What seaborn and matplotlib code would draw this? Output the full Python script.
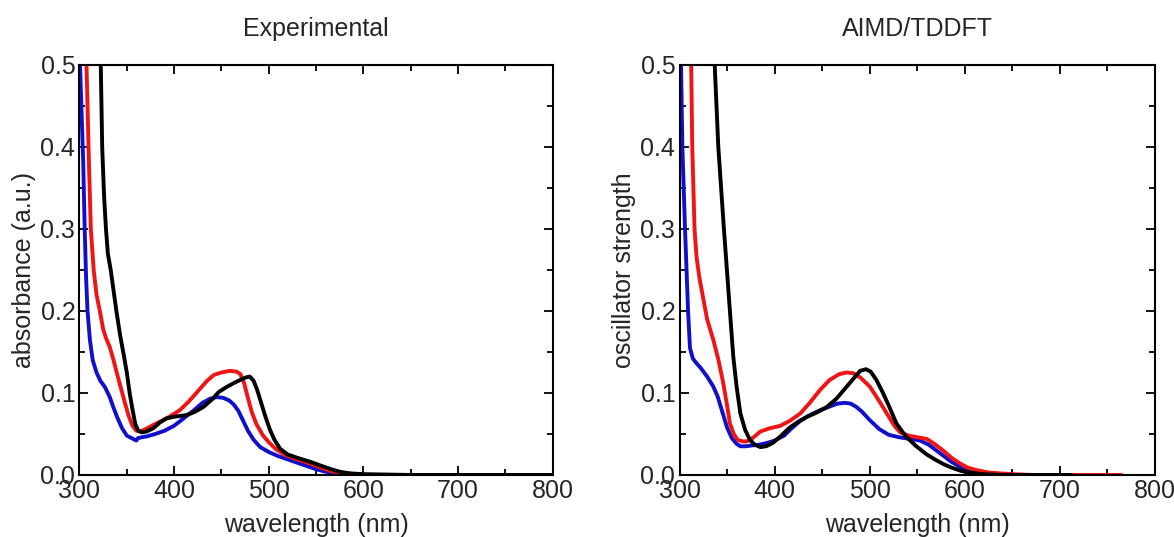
import matplotlib
matplotlib.use("Agg")
import matplotlib.pyplot as plt
from matplotlib.ticker import MultipleLocator
import numpy as np
import pandas as pd
import seaborn as sns

# Experimental spectra (wavelength nm, absorbance)
exp_blue_wl = [300, 302, 304, 305.5, 307, 308.5, 311, 314, 318, 322, 327, 332, 336, 340, 345,
               350, 355, 360, 362, 366, 371, 380, 390, 400, 410, 420, 430, 438, 445, 452, 458,
               463, 468, 473, 478, 484, 491, 500, 510, 520, 530, 540, 550, 560, 570, 580, 600,
               650, 700, 750, 800]
exp_blue_val = [0.52, 0.45, 0.38, 0.30, 0.24, 0.20, 0.165, 0.14, 0.125, 0.115, 0.107, 0.095,
                0.082, 0.07, 0.057, 0.048, 0.045, 0.042, 0.045, 0.046, 0.047, 0.050, 0.054,
                0.060, 0.069, 0.078, 0.088, 0.093, 0.095, 0.094, 0.091, 0.086, 0.078, 0.066,
                0.054, 0.043, 0.034, 0.028, 0.023, 0.019, 0.015, 0.011, 0.007, 0.004, 0.002,
                0.001, 0.0, 0.0, 0.0, 0.0, 0.0]

exp_red_wl = [305, 307, 308.5, 310, 312, 315, 318, 321.5, 325, 328, 332, 336, 340, 344, 348,
              352, 356, 360, 364, 370, 378, 385, 395, 406, 415, 422, 428, 435, 442, 450, 459,
              466, 470, 474, 478, 482, 487, 494, 500, 508, 518, 530, 544, 555, 565, 575, 590,
              600, 700, 800]
exp_red_val = [0.6, 0.52, 0.45, 0.38, 0.30, 0.25, 0.22, 0.20, 0.178, 0.167, 0.156, 0.14, 0.122,
               0.105, 0.088, 0.072, 0.060, 0.054, 0.053, 0.056, 0.061, 0.065, 0.071, 0.079,
               0.089, 0.098, 0.106, 0.115, 0.122, 0.125, 0.127, 0.126, 0.123, 0.112, 0.094,
               0.077, 0.062, 0.048, 0.040, 0.031, 0.024, 0.019, 0.014, 0.009, 0.005, 0.003,
               0.001, 0.0, 0.0, 0.0]

exp_black_wl = [320, 322.5, 324, 326, 328, 330, 333, 336, 339, 343, 347, 350, 353, 356, 359,
                362, 366, 371, 378, 385, 392, 400, 413, 422, 431, 440, 447, 455, 463, 470, 476,
                480, 484, 488, 492, 496, 501, 506, 512, 520, 530, 544, 556, 566, 575, 585, 600,
                650, 700, 800]
exp_black_val = [0.6, 0.5, 0.4, 0.34, 0.30, 0.27, 0.25, 0.225, 0.20, 0.17, 0.145, 0.125, 0.10,
                 0.08, 0.062, 0.054, 0.052, 0.053, 0.057, 0.064, 0.069, 0.071, 0.073, 0.077,
                 0.083, 0.092, 0.101, 0.107, 0.112, 0.116, 0.119, 0.120, 0.115, 0.103, 0.088,
                 0.073, 0.056, 0.043, 0.032, 0.025, 0.021, 0.016, 0.011, 0.007, 0.004, 0.002,
                 0.001, 0.0, 0.0, 0.0]

# AIMD/TDDFT spectra (wavelength nm, oscillator strength)
sim_blue_wl = [300, 301.6, 303, 305.8, 309, 311, 314, 318, 322, 329, 335.5, 340, 345, 350, 355,
               360, 364, 370, 376, 384, 392, 400, 410, 418, 427, 437, 448, 457, 466, 474, 480,
               486, 492, 500, 510, 520, 531, 542, 553, 562, 570, 578, 586, 595, 602, 612, 620,
               635, 650, 715]
sim_blue_val = [0.56, 0.50, 0.40, 0.30, 0.20, 0.155, 0.142, 0.136, 0.131, 0.12, 0.108, 0.096,
                0.077, 0.058, 0.045, 0.038, 0.035, 0.035, 0.036, 0.037, 0.039, 0.042, 0.048,
                0.057, 0.066, 0.073, 0.079, 0.083, 0.087, 0.088, 0.087, 0.083, 0.077, 0.067,
                0.056, 0.049, 0.046, 0.044, 0.042, 0.037, 0.030, 0.023, 0.016, 0.010, 0.007,
                0.004, 0.002, 0.001, 0.0, 0.0]

sim_red_wl = [310, 312.3, 313.4, 315.8, 318, 321, 325, 329, 335.5, 341, 346, 350, 353, 357, 361,
              366, 371, 378, 385, 395, 406, 416, 427, 437, 448, 458, 468, 476, 483, 490, 500,
              509, 518, 526, 532, 541, 550, 560, 568, 577, 586, 595, 603, 612, 625, 637, 650,
              672, 765]
sim_red_val = [0.62, 0.50, 0.40, 0.30, 0.265, 0.24, 0.215, 0.19, 0.165, 0.14, 0.112, 0.085,
               0.063, 0.050, 0.043, 0.041, 0.041, 0.046, 0.053, 0.057, 0.060, 0.066, 0.075,
               0.088, 0.104, 0.116, 0.123, 0.125, 0.124, 0.119, 0.108, 0.092, 0.075, 0.060,
               0.052, 0.048, 0.046, 0.044, 0.038, 0.030, 0.021, 0.014, 0.009, 0.006, 0.003,
               0.002, 0.001, 0.0, 0.0]

sim_black_wl = [333, 337, 340.8, 346.7, 353, 356.5, 360, 364, 369, 374, 379, 385, 391, 398, 407,
                416, 425, 434, 444, 455, 465, 476, 484, 490, 496, 501, 507, 514, 521, 528, 538,
                549, 560, 570, 578, 586, 596, 605, 619, 640, 712]
sim_black_val = [0.6, 0.50, 0.40, 0.30, 0.20, 0.145, 0.108, 0.075, 0.055, 0.043, 0.037, 0.034,
                 0.035, 0.039, 0.048, 0.058, 0.065, 0.071, 0.076, 0.083, 0.093, 0.108, 0.119,
                 0.127, 0.129, 0.126, 0.116, 0.100, 0.082, 0.063, 0.047, 0.035, 0.025, 0.018,
                 0.013, 0.009, 0.005, 0.003, 0.001, 0.0, 0.0]

blue = "#1010cc"
red = "#f01414"
black = "#000000"

sns.set_style("ticks")
plt.rcParams['font.family'] = ['Liberation Sans', 'DejaVu Sans']
plt.rcParams['font.size'] = 18

fig = plt.figure(figsize=(11.74, 5.37), dpi=100)
ax1 = fig.add_axes([0.0677, 0.1155, 0.403, 0.7635])
ax2 = fig.add_axes([0.5788, 0.1155, 0.405, 0.7635])

panels = [
    (ax1, 'Experimental', 'absorbance (a.u.)',
     [(exp_blue_wl, exp_blue_val, blue), (exp_red_wl, exp_red_val, red),
      (exp_black_wl, exp_black_val, black)]),
    (ax2, 'AIMD/TDDFT', 'oscillator strength',
     [(sim_blue_wl, sim_blue_val, blue), (sim_red_wl, sim_red_val, red),
      (sim_black_wl, sim_black_val, black)]),
]

for ax, title, ylabel, series in panels:
    for wl, val, col in series:
        sns.lineplot(x=wl, y=val, color=col, linewidth=2.8, ax=ax, sort=False)
    ax.set_xlim(300, 800)
    ax.set_ylim(0, 0.5)
    ax.xaxis.set_major_locator(MultipleLocator(100))
    ax.xaxis.set_minor_locator(MultipleLocator(50))
    ax.yaxis.set_major_locator(MultipleLocator(0.1))
    ax.yaxis.set_minor_locator(MultipleLocator(0.05))
    ax.tick_params(which='both', direction='in', top=True, right=True,
                   width=1.3, labelsize=18, pad=3, color='black')
    ax.tick_params(which='major', length=6.5)
    ax.tick_params(which='minor', length=4)
    for sp in ax.spines.values():
        sp.set_linewidth(1.5)
        sp.set_color('black')
    ax.set_title(title, fontsize=18, pad=21)
    ax.set_xlabel('wavelength (nm)', fontsize=18, labelpad=7)
    ax.set_ylabel(ylabel, fontsize=18, labelpad=3)

fig.savefig('out.png', dpi=100)
